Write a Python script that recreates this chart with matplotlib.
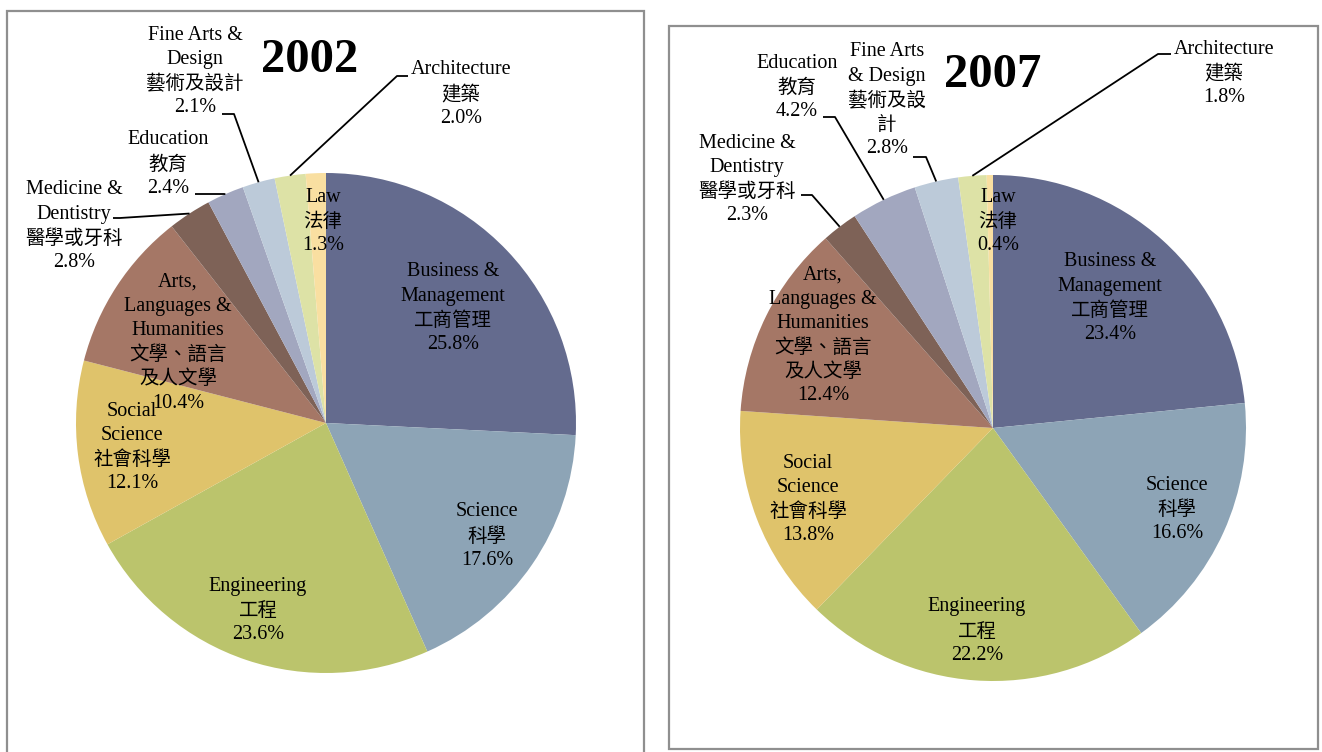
import numpy as np
import matplotlib
matplotlib.use('Agg')
from matplotlib import pyplot as plt
from matplotlib.patches import Rectangle

W, H = 1322, 752

# data
fields_en = ['Business &\nManagement', 'Science', 'Engineering', 'Social\nScience',
             'Arts,\nLanguages &\nHumanities', 'Medicine &\nDentistry', 'Education',
             'Fine Arts &\nDesign', 'Architecture', 'Law']
fields_zh = ['工商管理', '科學', '工程', '社會科學', '文學、語言\n及人文學', '醫學或牙科',
             '教育', '藝術及設計', '建築', '法律']
share_2002 = [25.8, 17.6, 23.6, 12.1, 10.4, 2.8, 2.4, 2.1, 2.0, 1.3]
share_2007 = [23.4, 16.6, 22.2, 13.8, 12.4, 2.3, 4.2, 2.8, 1.8, 0.4]
colors = ['#646B8E', '#8DA4B6', '#BBC46C', '#DFC36B', '#A57766',
          '#7E6257', '#A2A7BF', '#BCCAD9', '#DDE2A6', '#F9DFA1']

LATIN = 'Liberation Serif'
CJK = 'Noto Sans CJK TC'
LINE = 24.2

# layout, pixel coords (x, y of first line) for every label
charts = [
    dict(year='2002', values=share_2002, center=(326, 423), radius=250,
         title_xy=(310, 60), box=(7, 11, 644, 775),
         labels=[(453, 272), (487, 512), (258, 586), (132, 411), (178, 282),
                 (74, 190), (168, 140), (195, 35), (461, 70), (323, 197)],
         leaders={5: [(120, 218), (113, 218)], 6: [(224, 194), (195, 194)],
                  7: [(234, 114), (222, 114)], 8: [(397, 76), (408, 76)]},
         override={}),
    dict(year='2007', values=share_2007, center=(993, 428), radius=253,
         title_xy=(993, 75), box=(669, 26, 1318, 749),
         labels=[(1110, 262), (1177, 485), (977, 607), (808, 463), (823, 275),
                 (747, 143), (797, 63), (887, 52), (1224, 49), (998, 197)],
         leaders={5: [(812, 195), (801, 195)], 6: [(835, 117), (823, 117)],
                  7: [(926, 157), (913, 157)], 8: [(1158, 54), (1171, 54)]},
         override={7: ('Fine Arts\n& Design', '藝術及設\n計')}),
]


def fy(y):
    return H - y


def has_cjk(s):
    return any(ord(c) > 0x2E80 for c in s)


fig = plt.figure(figsize=(W / 100, H / 100), dpi=100)
ax = fig.add_axes([0, 0, 1, 1])

for ch in charts:
    cx, cy = ch['center']
    r = ch['radius']
    x0, y0, x1, y1 = ch['box']
    ax.add_patch(Rectangle((x0, fy(y1)), x1 - x0, y1 - y0, fill=False,
                           edgecolor='#8F8F8F', linewidth=1.6, zorder=0))
    wedges, _ = ax.pie(ch['values'], colors=colors, startangle=90,
                       counterclock=False, center=(cx, fy(cy)), radius=r,
                       wedgeprops=dict(linewidth=0))
    ax.text(ch['title_xy'][0], fy(ch['title_xy'][1]), ch['year'],
            family=LATIN, fontsize=35, fontweight='bold',
            ha='center', va='center')

    for i, w in enumerate(wedges):
        en, zh = ch['override'].get(i, (fields_en[i], fields_zh[i]))
        lines = en.split('\n') + zh.split('\n') + [f"{ch['values'][i]:.1f}%"]
        lx, ly = ch['labels'][i]
        for k, line in enumerate(lines):
            cjk = has_cjk(line)
            ax.text(lx, fy(ly + k * LINE), line,
                    family=[LATIN, CJK] if not cjk else [CJK],
                    fontsize=14 if cjk else 14.5,
                    ha='center', va='center')
        if i in ch['leaders']:
            mid = np.deg2rad((w.theta1 + w.theta2) / 2)
            pts = [(cx + r * np.cos(mid), fy(cy) + r * np.sin(mid))]
            pts += [(px, fy(py)) for px, py in ch['leaders'][i]]
            xs, ys = zip(*pts)
            ax.plot(xs, ys, color='black', linewidth=1.3, solid_capstyle='butt')

ax.set_xlim(0, W)
ax.set_ylim(0, H)
ax.set_aspect('auto')
ax.axis('off')
fig.savefig('out.png', dpi=100, facecolor='white')
